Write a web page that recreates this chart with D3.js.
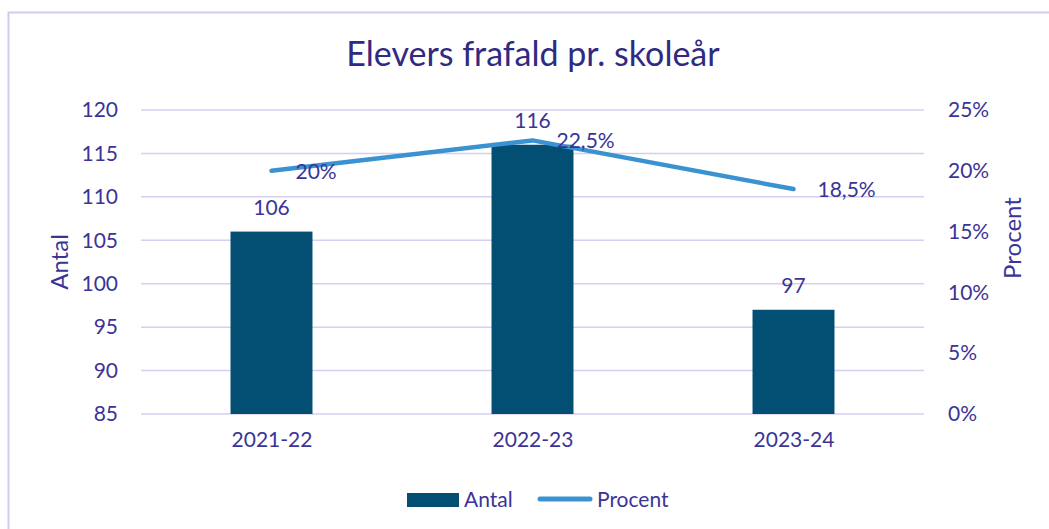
<!DOCTYPE html>
<meta charset="utf-8">
<head>
  <script src="https://d3js.org/d3.v7.min.js"></script>
  <style>
    body { margin: 0; background: #fff; }
    text { font-family: Lato, "Open Sans", sans-serif; }
  </style>
</head>
<body>
  <div id="chart"></div>
  <script>
    var years = ["2021-22", "2022-23", "2023-24"];
    var antal = [106, 116, 97];
    var procent = [20, 22.5, 18.5];
    var procentLabels = ["20%", "22,5%", "18,5%"];
    var antalTicks = [85, 90, 95, 100, 105, 110, 115, 120];
    var procentTicks = [0, 5, 10, 15, 20, 25];

    var W = 1049, H = 529;
    var margin = { top: 110, right: 125, bottom: 115, left: 141 },
      width = W - margin.left - margin.right,
      height = H - margin.top - margin.bottom;

    var textColor = "#3b3496";
    var fs = "21px";

    var root = d3.select("#chart").append("svg")
      .attr("width", W).attr("height", H);

    // outer frame
    root.append("rect")
      .attr("x", 8.5).attr("y", 12.5)
      .attr("width", W + 20).attr("height", H + 20)
      .attr("fill", "none").attr("stroke", "#d0cdef").attr("stroke-width", 2);

    root.append("text")
      .attr("x", 533).attr("y", 66)
      .attr("text-anchor", "middle")
      .style("font-size", "34px")
      .style("fill", "#2f2a82")
      .text("Elevers frafald pr. skoleår");

    var svg = root.append("g")
      .attr("transform", "translate(" + margin.left + "," + margin.top + ")");

    var x = d3.scaleBand()
      .domain(years)
      .range([0, width])
      .paddingInner(0.686)
      .paddingOuter(0.343);

    var y = d3.scaleLinear().domain([85, 120]).range([height, 0]);
    var y2 = d3.scaleLinear().domain([0, 25]).range([height, 0]);

    // gridlines
    svg.append("g")
      .selectAll("line")
      .data(antalTicks)
      .enter().append("line")
      .attr("x1", 0).attr("x2", width)
      .attr("y1", d => y(d)).attr("y2", d => y(d))
      .attr("stroke", "#d3d0f0").attr("stroke-width", 1.5);

    var yAxis = svg.append("g")
      .call(d3.axisLeft(y).tickValues(antalTicks).tickSize(0).tickPadding(23));
    yAxis.select(".domain").remove();
    yAxis.selectAll("text").style("font-size", fs).style("fill", textColor)
      .style("font-family", "Lato, sans-serif");

    var y2Axis = svg.append("g")
      .attr("transform", "translate(" + width + ",0)")
      .call(d3.axisRight(y2).tickValues(procentTicks).tickSize(0).tickPadding(24)
        .tickFormat(d => d + "%"));
    y2Axis.select(".domain").remove();
    y2Axis.selectAll("text").style("font-size", fs).style("fill", textColor)
      .style("font-family", "Lato, sans-serif");

    var xAxis = svg.append("g")
      .attr("transform", "translate(0," + height + ")")
      .call(d3.axisBottom(d3.scalePoint().domain(years).range([width / 6, width * 5 / 6]))
        .tickSize(0).tickPadding(18));
    xAxis.select(".domain").remove();
    xAxis.selectAll("text").style("font-size", fs).style("fill", textColor)
      .style("font-family", "Lato, sans-serif");

    // bars
    svg.selectAll(".bar")
      .data(years)
      .enter().append("rect")
      .attr("class", "bar")
      .attr("x", d => x(d))
      .attr("y", (d, i) => y(antal[i]))
      .attr("width", x.bandwidth())
      .attr("height", (d, i) => height - y(antal[i]))
      .attr("fill", "#024f73");

    // line
    var line = d3.line()
      .x((d, i) => x(years[i]) + x.bandwidth() / 2)
      .y(d => y2(d));
    svg.append("path")
      .datum(procent)
      .attr("d", line)
      .attr("fill", "none")
      .attr("stroke", "#3a93d0")
      .attr("stroke-width", 4.5)
      .attr("stroke-linecap", "round")
      .attr("stroke-linejoin", "round");

    // bar labels
    svg.selectAll(".blabel")
      .data(years)
      .enter().append("text")
      .attr("x", d => x(d) + x.bandwidth() / 2)
      .attr("y", (d, i) => y(antal[i]) - 17)
      .attr("text-anchor", "middle")
      .style("font-size", fs)
      .style("fill", textColor)
      .text((d, i) => antal[i]);

    // line labels
    svg.selectAll(".plabel")
      .data(years)
      .enter().append("text")
      .attr("x", d => x(d) + x.bandwidth() / 2 + 24)
      .attr("y", (d, i) => y2(procent[i]) + 8)
      .style("font-size", fs)
      .style("fill", textColor)
      .text((d, i) => procentLabels[i]);

    // axis titles
    root.append("text")
      .attr("transform", "translate(68,262) rotate(-90)")
      .attr("text-anchor", "middle")
      .style("font-size", "24px")
      .style("fill", textColor)
      .text("Antal");
    root.append("text")
      .attr("transform", "translate(1021,238) rotate(-90)")
      .attr("text-anchor", "middle")
      .style("font-size", "24px")
      .style("fill", textColor)
      .text("Procent");

    // legend
    var legend = root.append("g").attr("transform", "translate(407,500)");
    legend.append("rect")
      .attr("x", 0).attr("y", -7).attr("width", 52).attr("height", 14)
      .attr("fill", "#024f73");
    legend.append("text")
      .attr("x", 57).attr("y", 7)
      .style("font-size", fs).style("fill", textColor)
      .text("Antal");
    legend.append("line")
      .attr("x1", 133).attr("x2", 183).attr("y1", -1).attr("y2", -1)
      .attr("stroke", "#3a93d0").attr("stroke-width", 5)
      .attr("stroke-linecap", "round");
    legend.append("text")
      .attr("x", 190).attr("y", 7)
      .style("font-size", fs).style("fill", textColor)
      .text("Procent");
  </script>
</body>
</html>
